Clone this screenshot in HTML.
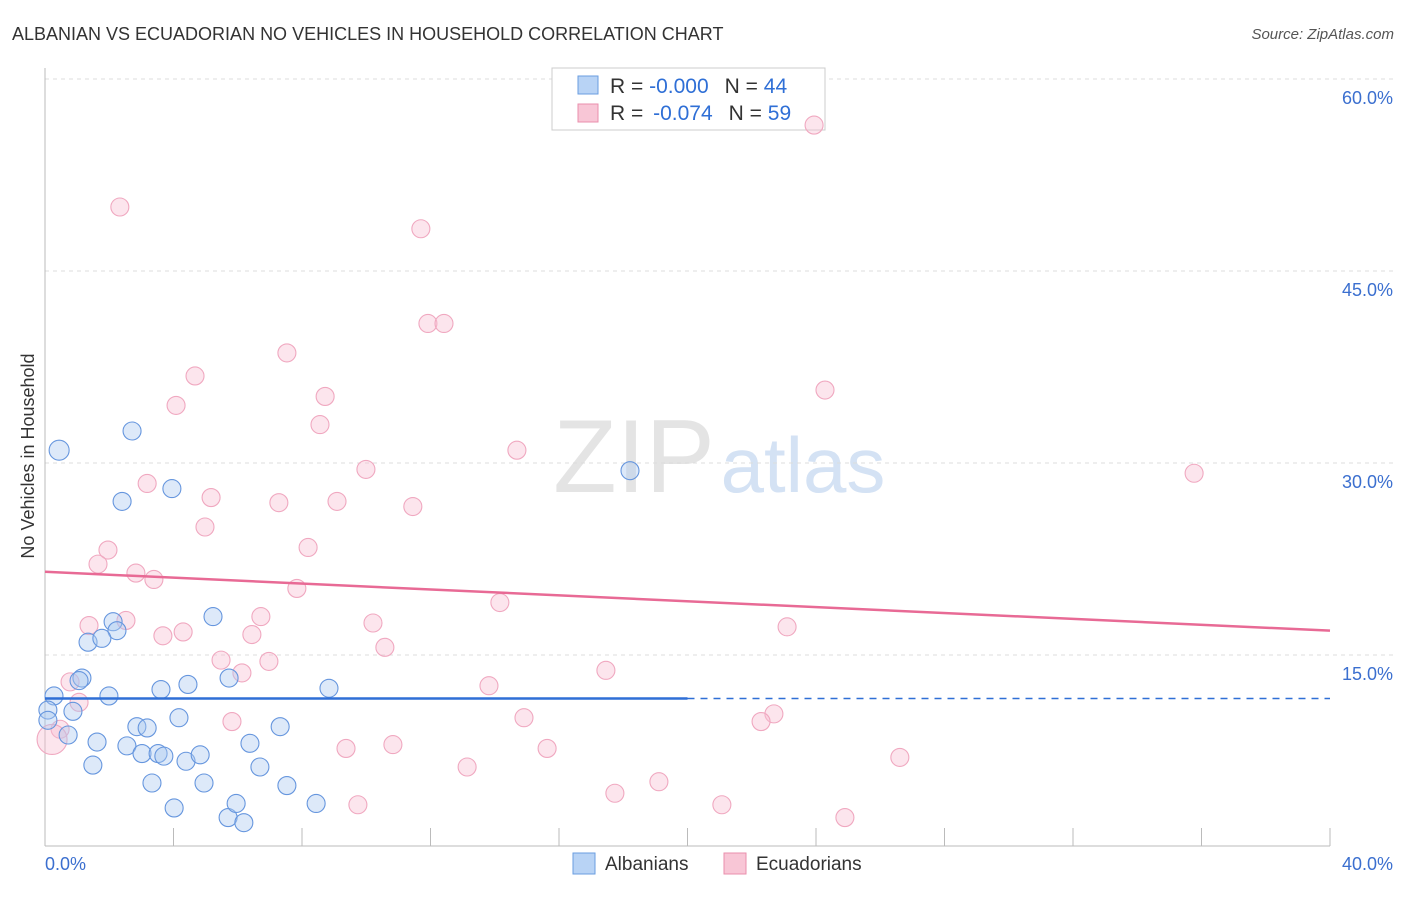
<!DOCTYPE html>
<html><head><meta charset="utf-8"><style>
body{margin:0;background:#fff;font-family:"Liberation Sans",sans-serif}
svg text{font-family:"Liberation Sans",sans-serif}
</style></head><body>
<svg id="c" width="1406" height="892">
<text x="12" y="40" font-size="18" fill="#333">ALBANIAN VS ECUADORIAN NO VEHICLES IN HOUSEHOLD CORRELATION CHART</text>
<text x="1394" y="39" font-size="15" fill="#555" text-anchor="end" font-style="italic">Source: ZipAtlas.com</text>
<text x="634" y="492" font-size="104" fill="#e4e4e4" font-family="Liberation Serif" text-anchor="middle">ZIP</text>
<text x="803" y="492" font-size="78" fill="#d4e2f4" text-anchor="middle">atlas</text>
<text transform="translate(34,456) rotate(-90)" font-size="18" fill="#333" text-anchor="middle">No Vehicles in Household</text>
<g id="grid"></g>
<g>
<rect x="552" y="68" width="273" height="62" fill="#fff" stroke="#ccc"/>
<rect x="578" y="76" width="20" height="18" fill="#b8d3f5" stroke="#6a9ee0"/>
<rect x="578" y="104" width="20" height="18" fill="#f8c6d6" stroke="#ea8fac"/>
<text x="610" y="93" font-size="21" fill="#333">R = <tspan fill="#2f6fd6">-0.000</tspan><tspan dx="16">N = </tspan><tspan fill="#2f6fd6">44</tspan></text>
<text x="610" y="120" font-size="21" fill="#333">R = <tspan dx="4" fill="#2f6fd6">-0.074</tspan><tspan dx="16">N = </tspan><tspan fill="#2f6fd6">59</tspan></text>
</g>
<g id="pts"></g><g id="trend"></g>
<text x="45" y="870" font-size="18" fill="#3b6fcf">0.0%</text>
<text x="1393" y="870" font-size="18" fill="#3b6fcf" text-anchor="end">40.0%</text>
<g>
<rect x="573" y="853" width="22" height="21" fill="#b8d3f5" stroke="#6a9ee0"/>
<text x="605" y="870" font-size="19" fill="#333">Albanians</text>
<rect x="724" y="853" width="22" height="21" fill="#f8c6d6" stroke="#ea8fac"/>
<text x="756" y="870" font-size="19" fill="#333">Ecuadorians</text>
</g>
</svg>
<script>
const yTicks=[15,30,45,60];
const xTicks=[0,4,8,12,16,20,24,28,32,36,40];
const blueX=[0.44,2.71,2.40,3.95,18.21,5.23,2.12,2.24,1.34,1.77,1.15,1.06,0.28,0.09,0.87,1.99,3.61,4.45,5.73,8.84,0.72,1.62,2.86,3.18,4.17,2.55,3.02,3.52,3.70,4.39,4.83,6.38,7.32,1.49,3.33,4.95,6.69,7.53,8.44,4.02,5.70,6.19,5.95,0.09];
const blueY=[31.0,32.5,27.0,28.0,29.4,18.0,17.6,16.9,16.0,16.3,13.2,13.0,11.8,10.7,10.6,11.8,12.3,12.7,13.2,12.4,8.75,8.2,9.4,9.3,10.1,7.9,7.3,7.3,7.1,6.7,7.2,8.1,9.4,6.4,5.0,5.0,6.25,4.8,3.4,3.05,2.3,1.9,3.4,9.9];
const pinkX=[23.94,2.33,11.70,11.92,12.42,7.53,4.67,24.28,8.72,4.08,8.56,14.69,9.99,35.77,3.18,5.17,7.28,9.09,11.45,4.98,1.96,8.19,1.65,2.83,3.39,7.84,14.16,2.52,6.72,10.21,1.37,23.10,4.30,3.67,6.44,10.58,5.48,6.97,6.13,17.46,0.78,13.82,1.06,14.91,22.69,22.29,5.82,9.37,10.83,15.63,0.47,0.22,26.61,13.14,19.11,17.74,9.74,21.07,24.90];
const pinkY=[56.4,50.0,48.3,40.9,40.9,38.6,36.8,35.7,35.2,34.5,33.0,31.0,29.5,29.2,28.4,27.3,26.9,27.0,26.6,25.0,23.2,23.4,22.1,21.4,20.9,20.2,19.1,17.7,18.0,17.5,17.3,17.2,16.8,16.5,16.6,15.6,14.6,14.5,13.6,13.8,12.9,12.6,11.3,10.1,10.4,9.8,9.8,7.7,8.0,7.7,9.2,8.4,7.0,6.25,5.1,4.2,3.3,3.3,2.3];
const blueTrend=[11.6,11.6];
const pinkTrend=[21.5,16.9];
const X=v=>45+v/40*1285, Y=v=>847-v/15*192;
const NS='http://www.w3.org/2000/svg';
function mk(t,a,p){const e=document.createElementNS(NS,t);for(const k in a)e.setAttribute(k,a[k]);p.appendChild(e);return e;}
const g=document.getElementById('grid');
yTicks.forEach(t=>{const l=mk('line',{x1:45,x2:1395,y1:Y(t),y2:Y(t),stroke:'#ddd','stroke-dasharray':'4,4'},g);


const tx=mk('text',{x:1393,y:Y(t)+25,'font-size':18,fill:'#3b6fcf','text-anchor':'end'},g);tx.textContent=t.toFixed(1)+'%';

});
const ax=mk('line',{x1:45,x2:45,y1:68,y2:846,stroke:'#bbb'},g);


const bx=mk('line',{x1:45,x2:1330,y1:846,y2:846,stroke:'#bbb'},g);


xTicks.forEach(t=>{const l=mk('line',{x1:X(t),x2:X(t),y1:828,y2:846,stroke:'#bbb'},g);

});
const p=document.getElementById('pts');
function pts(xs,ys,f,s,name){xs.forEach((x,i)=>{let r=9;if(name=='albanian'&&i==0)r=10;if(name=='ecuadorian'&&i==51)r=15;
const c=mk('circle',{cx:X(x),cy:Y(ys[i]),r:r,fill:f,stroke:s,'stroke-width':1.1},p);

});}
pts(pinkX,pinkY,'rgba(248,190,210,0.4)','#f0a8c0','ecuadorian');
pts(blueX,blueY,'rgba(170,200,240,0.4)','#6696de','albanian');
const tr=document.getElementById('trend');
const a=mk('line',{x1:X(0),x2:X(20),y1:Y(blueTrend[0]),y2:Y((blueTrend[0]+blueTrend[1])/2),stroke:'#2f6fd6','stroke-width':2.5},tr);


const b=mk('line',{x1:X(20),x2:X(40),y1:Y((blueTrend[0]+blueTrend[1])/2),y2:Y(blueTrend[1]),stroke:'#2f6fd6','stroke-width':1.5,'stroke-dasharray':'7,6'},tr);


const c=mk('line',{x1:X(0),x2:X(40),y1:Y(pinkTrend[0]),y2:Y(pinkTrend[1]),stroke:'#e86a95','stroke-width':2.5},tr);


</script>
</body></html>
